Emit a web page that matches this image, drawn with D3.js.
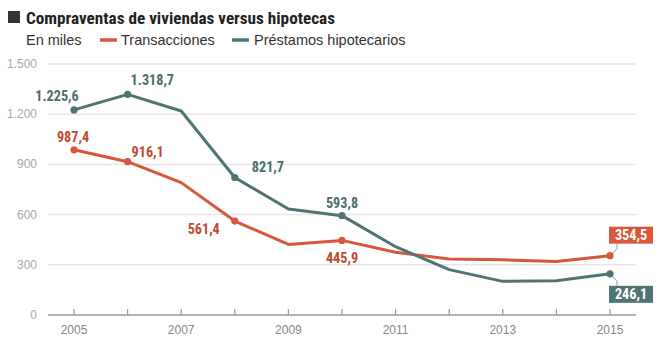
<!DOCTYPE html>
<html><head><meta charset="utf-8">
<script src="https://cdn.jsdelivr.net/npm/d3@7"></script>
<style>body{margin:0;background:#fff}svg{display:block}</style>
</head><body>
<svg id="c" width="664" height="343"></svg>
<script>
const years = [2005,2006,2007,2008,2009,2010,2011,2012,2013,2014,2015];
const transacciones = [987.4,916.1,791,561.4,422,445.9,375,334,330,320,354.5];
const prestamos = [1225.6,1318.7,1219,821.7,633,593.8,408,271,201,205,246.1];
const yTicks = [0,300,600,900,1200,1500];
const xLabelYears = [2005,2007,2009,2011,2013,2015];
const seriesNames = ["Transacciones","Préstamos hipotecarios"];
const title = "Compraventas de viviendas versus hipotecas";
const unitLabel = "En miles";

const RED = "#d9573b", TEAL = "#4f7473", REDTXT = "#bf4a30", TEALTXT = "#4b6e6d";
const loc = d3.formatLocale({decimal:",",thousands:".",grouping:[3],currency:["","€"]});
const fmt1 = loc.format(",.1f"), fmt0 = loc.format(",d");

const svg = d3.select("#c");
const x = d3.scaleLinear().domain([2005,2015]).range([74,610]);
const y = d3.scaleLinear().domain([0,1500]).range([315,64]);
const condensed = "'Liberation Sans Narrow','Arial Narrow','Roboto Condensed',sans-serif";
const sans = "'Liberation Sans',Arial,Helvetica,sans-serif";

// Title
svg.append("rect").attr("x",8).attr("y",11).attr("width",12).attr("height",12).attr("fill","#333");
svg.append("text").attr("x",26).attr("y",24).attr("font-family",condensed).attr("font-weight","bold")
  .attr("font-size",17.2).attr("fill","#222").text(title);
// Legend
const lg = svg.append("g").attr("font-family",sans).attr("font-size",14.5).attr("fill","#333");
lg.append("text").attr("x",26).attr("y",45).text(unitLabel);
lg.append("line").attr("x1",100).attr("x2",117).attr("y1",40).attr("y2",40).attr("stroke",RED).attr("stroke-width",3.5);
lg.append("text").attr("x",121).attr("y",45).text(seriesNames[0]);
lg.append("line").attr("x1",232).attr("x2",249).attr("y1",40).attr("y2",40).attr("stroke",TEAL).attr("stroke-width",3.5);
lg.append("text").attr("x",254).attr("y",45).text(seriesNames[1]);

// Grid
const g = svg.append("g");
g.selectAll(".grid").data(yTicks.filter(d=>d>0)).join("line")
  .attr("x1",48).attr("x2",636).attr("y1",d=>y(d)).attr("y2",d=>y(d))
  .attr("stroke","#e6e6e6").attr("stroke-width",1.5);
g.selectAll(".yl").data(yTicks).join("text")
  .attr("x",37).attr("y",d=>y(d)+4).attr("text-anchor","end")
  .attr("font-family",sans).attr("font-size",12).attr("fill","#a8a8a8").text(d=>fmt0(d));
// X axis
g.append("line").attr("x1",48).attr("x2",636).attr("y1",y(0)).attr("y2",y(0)).attr("stroke","#999").attr("stroke-width",1.5);
g.selectAll(".xt").data(years).join("line")
  .attr("x1",d=>x(d)).attr("x2",d=>x(d)).attr("y1",y(0)).attr("y2",y(0)-6).attr("stroke","#999").attr("stroke-width",1.2);
g.selectAll(".xl").data(xLabelYears).join("text")
  .attr("x",d=>x(d)).attr("y",334).attr("text-anchor","middle")
  .attr("font-family",sans).attr("font-size",12).attr("fill","#888").text(d=>d);

// Lines
const line = d3.line().x((d,i)=>x(years[i])).y(d=>y(d));
[[transacciones,RED],[prestamos,TEAL]].forEach(([vals,c])=>{
  svg.append("path").datum(vals).attr("d",line).attr("fill","none").attr("stroke",c)
    .attr("stroke-width",3).attr("stroke-linejoin","round");
});

// Labels
const labels = [
  {s:prestamos, i:0, c:TEAL, t:TEALTXT, dx:-17, dy:-9, a:"middle"},
  {s:prestamos, i:1, c:TEAL, t:TEALTXT, dx:3, dy:-9, a:"start"},
  {s:prestamos, i:3, c:TEAL, t:TEALTXT, dx:17, dy:-6, a:"start"},
  {s:prestamos, i:5, c:TEAL, t:TEALTXT, dx:0, dy:-8, a:"middle"},
  {s:transacciones, i:0, c:RED, t:REDTXT, dx:-1, dy:-8, a:"middle"},
  {s:transacciones, i:1, c:RED, t:REDTXT, dx:4, dy:-5, a:"start"},
  {s:transacciones, i:3, c:RED, t:REDTXT, dx:-15, dy:13, a:"end"},
  {s:transacciones, i:5, c:RED, t:REDTXT, dx:0, dy:23, a:"middle"},
];
const lab = svg.append("g").attr("font-family",condensed).attr("font-weight","bold").attr("font-size",14.2);
labels.forEach(l=>{
  const px = x(years[l.i]), py = y(l.s[l.i]);
  svg.append("circle").attr("cx",px).attr("cy",py).attr("r",3.6).attr("fill",l.c);
  lab.append("text").attr("x",px+l.dx).attr("y",py+l.dy).attr("text-anchor",l.a).attr("fill",l.t).text(fmt1(l.s[l.i]));
});
// End boxed labels
const last = years.length-1;
[[transacciones,RED,-1],[prestamos,TEAL,1]].forEach(([s,c,dir])=>{
  const px = x(years[last]), py = y(s[last]);
  const bx = px-1, bw = 44, bh = 17;
  const by = dir<0 ? py-29 : py+12;
  const ly = dir<0 ? by+bh : by;
  svg.append("path").attr("d",`M${px},${py} L${px+7},${py+dir*7} L${px+7},${ly}`)
    .attr("fill","none").attr("stroke","#999").attr("stroke-width",1);
  svg.append("circle").attr("cx",px).attr("cy",py).attr("r",3.6).attr("fill",c);
  svg.append("rect").attr("x",bx).attr("y",by).attr("width",bw).attr("height",bh).attr("fill",c);
  svg.append("text").attr("x",bx+bw/2).attr("y",by+13.5).attr("text-anchor","middle")
    .attr("font-family",condensed).attr("font-weight","bold").attr("font-size",14.2).attr("fill","#fff").text(fmt1(s[last]));
});
</script>
</body></html>
